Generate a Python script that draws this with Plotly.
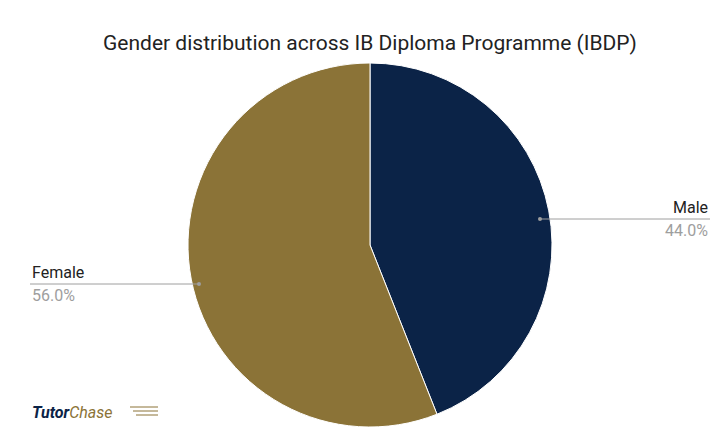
import plotly.graph_objects as go

labels = ["Male", "Female"]
values = [44.0, 56.0]
colors = ["#0b2347", "#8b7337"]

W, H = 724, 448
def px(x): return x / W
def py(y): return 1 - y / H

fig = go.Figure(go.Pie(
    labels=labels, values=values, sort=False, direction="clockwise", rotation=0,
    marker=dict(colors=colors, line=dict(color="white", width=1)),
    textinfo="none", hoverinfo="label+percent", showlegend=False,
    domain=dict(x=[0, 1], y=[py(419), py(55)]),
))

font = "Roboto, Arial, sans-serif"
anns = [
    dict(x=0.5, y=py(35), text="Gender distribution across IB Diploma Programme (IBDP)",
         font=dict(size=21, color="#222", family=font), showarrow=False, xanchor="center", yanchor="middle"),
    dict(x=px(702), y=py(199), text=labels[0], font=dict(size=16, color="#222", family=font),
         showarrow=False, xanchor="right", yanchor="middle"),
    dict(x=px(702), y=py(222), text=f"{values[0]:.1f}%", font=dict(size=16, color="#9e9e9e", family=font),
         showarrow=False, xanchor="right", yanchor="middle"),
    dict(x=px(22), y=py(264), text=labels[1], font=dict(size=16, color="#222", family=font),
         showarrow=False, xanchor="left", yanchor="middle"),
    dict(x=px(22), y=py(287), text=f"{values[1]:.1f}%", font=dict(size=16, color="#9e9e9e", family=font),
         showarrow=False, xanchor="left", yanchor="middle"),
    dict(x=px(22), y=py(404), text="<b><i>Tutor</i></b><i><span style='color:#8b7337'>Chase</span></i>",
         font=dict(size=16, color="#0b2347", family=font), showarrow=False, xanchor="left", yanchor="middle"),
]
shapes = [
    dict(type="line", xref="paper", yref="paper", x0=px(532), x1=px(702), y0=py(211), y1=py(211),
         line=dict(color="#9e9e9e", width=1)),
    dict(type="line", xref="paper", yref="paper", x0=px(22), x1=px(191), y0=py(276), y1=py(276),
         line=dict(color="#9e9e9e", width=1)),
    dict(type="circle", xref="paper", yref="paper", x0=px(530), x1=px(534), y0=py(209), y1=py(213),
         fillcolor="#9e9e9e", line=dict(width=0)),
    dict(type="circle", xref="paper", yref="paper", x0=px(189), x1=px(193), y0=py(274), y1=py(278),
         fillcolor="#9e9e9e", line=dict(width=0)),
]
for i, yy in enumerate([399, 403, 407]):
    shapes.append(dict(type="line", xref="paper", yref="paper", x0=px(122 + i * 3), x1=px(150),
                       y0=py(yy), y1=py(yy), line=dict(color="#8b7337", width=1)))

fig.update_layout(width=W, height=H, margin=dict(l=0, r=0, t=0, b=0),
                  paper_bgcolor="white", annotations=anns, shapes=shapes)
fig.write_html("out.html")
